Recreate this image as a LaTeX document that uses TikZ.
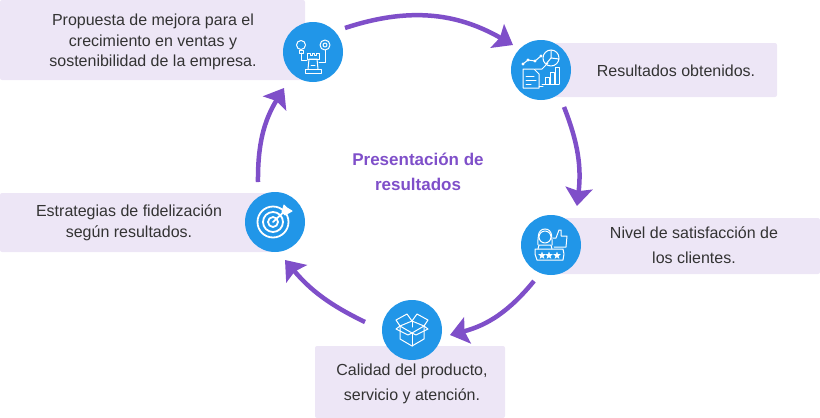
\documentclass[tikz,border=0pt]{standalone}
\usepackage{fontspec}
\setmainfont{Liberation Sans}
\usetikzlibrary{arrows.meta,shapes.geometric}
\definecolor{boxlila}{HTML}{EDE6F6}
\definecolor{iconblue}{HTML}{2196E8}
\definecolor{flecha}{HTML}{7F4FC9}
\tikzset{
    caja/.style={fill=boxlila,rounded corners=2pt},
    texto/.style={align=center,text=black!80,font=\fontsize{16}{20.5}\selectfont,inner sep=0pt},
    textoancho/.style={texto,font=\fontsize{16}{24.5}\selectfont},
    icono/.style={circle,fill=iconblue,minimum size=60pt,inner sep=0pt},
    trazo/.style={draw=white,line width=1pt,line join=round,line cap=round},
    estrella/.style={star,star points=5,star point ratio=2.4,fill=white,minimum size=8pt,inner sep=0pt},
    flechaarco/.style={draw=flecha,line width=4.5pt,-{Stealth[length=18pt,width=27pt,inset=3pt]}}
}
\begin{document}
\begin{tikzpicture}[x=1pt,y=-1pt]
    \useasboundingbox (0,0) rectangle (820,418);
    % cajas
    \fill[caja] (0,0) rectangle (305,80);
    \fill[caja] (541,43) rectangle (777,97);
    \fill[caja] (551,218) rectangle (820,274);
    \fill[caja] (315,346) rectangle (505,418);
    \fill[caja] (0,193) rectangle (275,252);
    % textos
    \node[texto] (tmejora) at (153,42) {Propuesta de mejora para el\\crecimiento en ventas y\\sostenibilidad de la empresa.};
    \node[texto] (tresult) at (676,71) {Resultados obtenidos.};
    \node[textoancho] (tnivel) at (694,245) {Nivel de satisfacción de\\los clientes.};
    \node[textoancho] (tcalidad) at (412,384) {Calidad del producto,\\servicio y atención.};
    \node[texto] (testrat) at (129,223) {Estrategias de fidelización\\según resultados.};
    \node[align=center,inner sep=0pt,text=flecha,font=\fontsize{17}{25}\selectfont\bfseries] (centro) at (418,172) {Presentación de\\resultados};
    % circulos
    \node[icono] (imejora) at (313,52) {};
    \node[icono] (iresult) at (541,70) {};
    \node[icono] (inivel) at (551,245) {};
    \node[icono] (icalidad) at (412,330) {};
    \node[icono] (iestrat) at (275,222) {};
    % flechas
    \coordinate (a1) at (345,28);
    \coordinate (a2) at (513,45);
    \coordinate (b1) at (564,107);
    \coordinate (b2) at (577,206);
    \coordinate (c1) at (534,281);
    \coordinate (c2) at (450,335);
    \coordinate (d1) at (365,322);
    \coordinate (d2) at (285,260);
    \coordinate (e1) at (258,182);
    \coordinate (e2) at (284,88);
    \draw[flechaarco] (a1) to[bend left=24] (a2);
    \draw[flechaarco] (b1) to[bend left=14] (b2);
    \draw[flechaarco] (c1) to[bend left=18] (c2);
    \draw[flechaarco] (d1) to[bend left=12] (d2);
    \draw[flechaarco] (e1) to[bend left=16] (e2);
    % icono diana
    \begin{scope}[shift={(iestrat)}]
        \foreach \r in {5,10,15.5}
            \draw[trazo,line width=1.8pt] (-2,0) circle[radius=\r];
        \draw[trazo,line width=1.8pt] (-2,0) -- (11,-12);
        \draw[trazo,fill=white] (7,-10) -- (9,-17) -- (12,-14) -- (17,-11) -- (10,-7) -- cycle;
    \end{scope}
    % icono caja
    \begin{scope}[shift={(icalidad)}]
        \draw[trazo] (-12,-4) -- (0,3) -- (12,-4) -- (0,-9) -- cycle;
        \draw[trazo] (-12,-4) -- (-12,9) -- (0,16) -- (12,9) -- (12,-4);
        \draw[trazo] (0,3) -- (0,16);
        \draw[trazo] (-12,-4) -- (-16,-10) -- (-5,-16) -- (0,-9);
        \draw[trazo] (12,-4) -- (16,-10) -- (5,-16) -- (0,-9);
        \draw[trazo] (-12,-4) -- (-16,-1) -- (-4,5) -- (0,3);
        \draw[trazo] (12,-4) -- (16,-1) -- (4,5) -- (0,3);
        \draw[trazo] (0,-9) -- (0,-3);
    \end{scope}
    % icono torre
    \begin{scope}[shift={(imejora)}]
        \draw[trazo] (-8,21) -- (8,21) -- (8,17) -- (-8,17) -- cycle;
        \draw[trazo] (-5,17) -- (-4,7) -- (4,7) -- (5,17);
        \draw[trazo] (-6,7) -- (-6,1) -- (-3,1) -- (-3,3) -- (-1,3) -- (-1,1) -- (1,1) -- (1,3) -- (3,3) -- (3,1) -- (6,1) -- (6,7) -- cycle;
        \draw[trazo] (-2,13) -- (2,13);
        \draw[trazo] (-12,-7) circle[radius=4.5];
        \draw[trazo] (-14,-2) -- (-10,-2) -- (-10,1) -- (-14,1) -- cycle;
        \draw[trazo] (-12,1) -- (-12,8) -- (-6,8);
        \draw[trazo] (12,-7) circle[radius=5];
        \draw[trazo] (12,-7) circle[radius=2];
        \draw[trazo] (12,-2) -- (12,10) -- (6,10);
    \end{scope}
    % icono resultados
    \begin{scope}[shift={(iresult)}]
        \draw[trazo] (-18,-1) -- (-7,-1) -- (-2,4) -- (-2,18) -- (-18,18) -- cycle;
        \draw[trazo] (-15,6) -- (-7,6) (-15,10) -- (-5,10) (-15,14) -- (-10,14);
        \draw[trazo] (-18,-6) -- (-13,-10) -- (-6,-9) -- (0,-14);
        \fill[white] (-18,-6) circle[radius=1.6] (-13,-10) circle[radius=1.6] (-6,-9) circle[radius=1.6] (0,-14) circle[radius=1.6];
        \draw[trazo] (10,-12) circle[radius=8];
        \draw[trazo] (10,-20) -- (10,-12) -- (18,-11) (10,-12) -- (5,-6);
        \draw[trazo] (1,14) -- (18,14);
        \draw[trazo] (4,14) -- (4,7) -- (8,7) -- (8,14);
        \draw[trazo] (9,14) -- (9,2) -- (13,2) -- (13,14);
        \draw[trazo] (14,14) -- (14,-3) -- (18,-3) -- (18,14);
        \draw[trazo] (-6,-1) -- (1,-1) -- (7,-7);
        \draw[trazo] (-2,16) -- (2,16);
    \end{scope}
    % icono satisfaccion
    \begin{scope}[shift={(inivel)}]
        \draw[trazo] (-16,4) -- (12,4) -- (13,9) -- (12,15) -- (-14,15) -- (-16,9) -- cycle;
        \draw[trazo] (-6,-8) circle[radius=6];
        \draw[trazo] (-6,-16) .. controls (-14,-16) and (-13,-6) .. (-13,0);
        \draw[trazo] (-6,-16) .. controls (2,-16) and (1,-6) .. (1,0);
        \draw[trazo] (-13,4) -- (-12,0) -- (0,0) -- (1,4);
        \draw[trazo] (2,-7) -- (5,-7) -- (8,-15) -- (10,-15) -- (10,-9) -- (16,-9) -- (15,2) -- (3,2);
        \foreach \x in {-9,-2,6}
            \node[estrella] (estrella\x) at (\x,10.5) {};
    \end{scope}
\end{tikzpicture}
\end{document}
